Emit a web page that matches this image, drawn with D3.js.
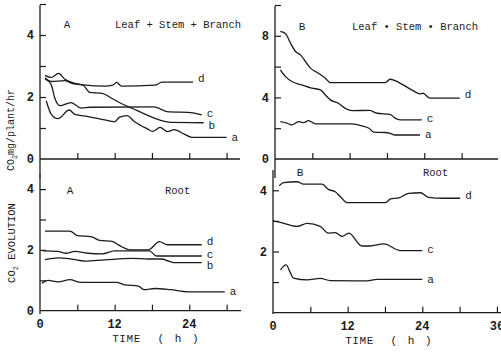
<!DOCTYPE html>
<html>
<head>
<meta charset="utf-8">
<script src="https://cdn.jsdelivr.net/npm/d3@7"></script>
<style>
  body { margin: 0; background: #fff; }
  svg { display: block; }
</style>
</head>
<body>
<svg id="chart" width="501" height="352"></svg>
<script>
// time ticks (h)
const timeLabels = [0, 12, 24, 36]

// A, leaf + stem + branch   [h, CO2 mg/plant/hr]
const shootA_a = [[1,1.88],[1.8,1.45],[2.9,1.3],[4.7,1.58],[5.6,1.44],[7.7,1.37],[10.4,1.26],[12,1.2],[12.8,1.35],[14,1.4],[15.2,1.2],[16.2,1.08],[17.2,0.98],[18.1,0.89],[19.3,1.02],[20.5,0.88],[21.6,0.95],[23.2,0.8],[24.4,0.7],[30,0.7]]
const shootA_b = [[0.8,2.7],[1.8,2.63],[3,2.76],[4,2.57],[5.5,2.45],[7,2.37],[8,2.15],[10,2.12],[11.5,1.96],[13.5,1.75],[15,1.62],[16.5,1.48],[18,1.35],[19.5,1.24],[21,1.18],[26.3,1.17]]
const shootA_c = [[0.8,2.58],[1.8,2.4],[2.4,1.95],[3.2,1.72],[5,1.82],[6.6,1.64],[8,1.67],[18.2,1.68],[19.3,1.62],[20.4,1.53],[24.6,1.49],[26,1.42]]
const shootA_d = [[0.8,2.62],[1.8,2.5],[4,2.53],[5,2.45],[7,2.39],[10.4,2.35],[11.7,2.38],[12.3,2.47],[13.1,2.35],[18.5,2.38],[19.6,2.48],[24.6,2.48]]

// B, leaf + stem + branch
const shootB_a = [[0.85,2.43],[1.8,2.35],[2.7,2.21],[3.8,2.43],[4.6,2.36],[5.4,2.49],[6.5,2.28],[12.4,2.28],[14,2.15],[15.1,2.0],[15.9,1.75],[17.7,1.72],[18.5,1.67],[19.3,1.56],[23.3,1.56]]
const shootB_c = [[0.85,5.79],[1.7,5.35],[2.7,5.03],[4.3,4.81],[5.9,4.6],[7.3,4.49],[8.1,4.16],[8.9,3.84],[10.2,3.62],[11.3,3.29],[12.4,3.14],[15.2,3.16],[16.4,2.97],[18.5,2.9],[19.3,2.65],[20.1,2.54],[23.6,2.54]]
const shootB_d = [[0.85,8.28],[1.7,8.13],[2.5,7.52],[3.3,6.98],[4.1,6.76],[4.9,6.33],[5.7,5.9],[7,5.57],[8.1,5.25],[8.9,4.96],[17.7,4.96],[18.5,5.18],[19.3,5.09],[20.6,4.81],[22.2,4.44],[23.3,4.23],[23.8,4.27],[24.9,3.95],[29.7,3.95]]

// A, root
const rootA_a = [[0.3,0.9],[1.3,1.0],[2.9,0.95],[4.8,1.02],[6.6,0.93],[12.3,0.93],[13.6,0.85],[15.8,0.81],[16.8,0.69],[18.4,0.73],[21,0.69],[23.8,0.62],[29.7,0.62]]
const rootA_b = [[0.8,1.68],[3,1.74],[5,1.7],[7.2,1.63],[10.4,1.67],[14.7,1.72],[17.4,1.7],[19.5,1.7],[20.8,1.62],[21.5,1.58],[26,1.58]]
const rootA_c = [[0.5,1.97],[2.9,1.95],[4.2,1.89],[5.6,1.95],[7.7,1.89],[10,1.87],[12,1.97],[17.6,1.97],[18.7,1.8],[26,1.8]]
const rootA_d = [[0.8,2.62],[4.8,2.62],[6,2.47],[8.3,2.43],[9.6,2.31],[11.6,2.28],[12.8,2.14],[14.6,2.0],[17.4,2.0],[19.2,2.27],[20.5,2.17],[26,2.17]]

// B, root
const rootB_a = [[1.2,1.4],[2.1,1.56],[2.8,1.3],[3.3,1.13],[5.5,1.07],[7.6,1.12],[9.2,1.05],[15.1,1.04],[16.7,1.09],[24,1.09]]
const rootB_c = [[0,3.0],[1.2,2.95],[3.9,2.82],[5.5,2.92],[7.6,2.82],[8.9,2.6],[10,2.62],[11.1,2.49],[12.2,2.6],[14.3,2.18],[15.6,2.18],[17.8,2.25],[20.5,2.03],[24,2.03]]
const rootB_d = [[1,4.15],[1.7,4.25],[3.9,4.28],[4.9,4.2],[7.9,4.2],[8.9,4.03],[10,3.95],[10.8,3.8],[11.9,3.6],[18.1,3.6],[18.9,3.72],[20.2,3.75],[21.8,3.9],[23.7,3.92],[25,3.77],[27.4,3.74],[30.1,3.74]]

const ink = '#1c1c1c'
const mono = '"Liberation Mono", "DejaVu Sans Mono", monospace'

const svg = d3.select('#chart')

const panels = [
  { letter: 'A', title: 'Leaf + Stem + Branch', x0: 40, xEnd: 240, yTop: 5, yBottom: 177,
    yMax: 5, yTicks: [1, 2, 3, 4, 5], yLabels: [0, 2, 4], y0: 159, yUnit: 31,
    ticks: [6, 12, 18, 24, 30], labelsX: false, maxHour: 30,
    letterPos: [67, 24], titlePos: [115, 24],
    series: { a: shootA_a, b: shootA_b, c: shootA_c, d: shootA_d } },
  { letter: 'B', title: 'Leaf \u2022 Stem \u2022 Branch', x0: 275, xEnd: 498, yTop: 6, yBottom: 178,
    yMax: 10, yTicks: [2, 4, 6, 8, 10], yLabels: [0, 4, 8], y0: 159, yUnit: 15.4,
    ticks: [6, 12, 18, 24, 30], labelsX: false, maxHour: 36,
    letterPos: [302, 26], titlePos: [352, 26],
    series: { a: shootB_a, c: shootB_c, d: shootB_d } },
  { letter: 'A', title: 'Root', x0: 40, xEnd: 241, yTop: 175, yBottom: 314,
    yMax: 4, yTicks: [1, 2, 3, 4], yLabels: [0, 2, 4], y0: 310.7, yUnit: 30.4,
    ticks: [6, 12, 18, 24, 30], labelsX: true, maxHour: 30,
    letterPos: [70, 190], titlePos: [165, 190],
    series: { a: rootA_a, b: rootA_b, c: rootA_c, d: rootA_d } },
  { letter: 'B', title: 'Root', x0: 273, xEnd: 501, yTop: 170, yBottom: 314,
    yMax: 4, yTicks: [1, 2, 3, 4], yLabels: [2, 4], y0: 312.7, yUnit: 30.6,
    ticks: [6, 12, 18, 24, 30, 36], labelsX: true, maxHour: 36,
    letterPos: [300, 172], titlePos: [423, 172],
    series: { a: rootB_a, c: rootB_c, d: rootB_d } }
]

// small vertical nudges so the end labels of close lines clear each other
const labelNudge = { a: 0, b: 3, c: -1, d: -3 }

panels.forEach(p => {
  const x = d3.scaleLinear().domain([0, 36]).range([p.x0, p.x0 + 36 * 6.22])
  const y = d3.scaleLinear().domain([0, p.yMax]).range([p.y0, p.y0 - p.yMax * p.yUnit])
  const g = svg.append('g')

  // axis lines
  g.append('line')
    .attr('x1', p.x0).attr('x2', p.x0)
    .attr('y1', p.yTop).attr('y2', p.yBottom)
    .attr('stroke', ink).attr('stroke-width', 1.3)
  g.append('line')
    .attr('x1', p.x0).attr('x2', p.xEnd)
    .attr('y1', p.y0).attr('y2', p.y0)
    .attr('stroke', ink).attr('stroke-width', 1.3)

  // y axis ticks, pointing inwards
  const yAxis = d3.axisLeft(y)
    .tickValues(p.yTicks)
    .tickSizeInner(-6).tickSizeOuter(0)
    .tickFormat('')
  const ya = g.append('g').attr('transform', `translate(${p.x0},0)`).call(yAxis)
  ya.select('.domain').remove()
  ya.selectAll('line').attr('stroke', ink).attr('stroke-width', 1.2)

  g.selectAll('text.ylab')
    .data(p.yLabels)
    .enter().append('text')
    .attr('class', 'ylab')
    .attr('x', p.x0 - 6)
    .attr('y', d => y(d))
    .attr('dy', '0.36em')
    .attr('text-anchor', 'end')
    .style('font-family', mono)
    .style('font-size', '12px')
    .style('font-weight', 'bold')
    .style('fill', ink)
    .text(d => d)

  // x axis ticks, pointing up
  const xAxis = d3.axisBottom(x)
    .tickValues(p.ticks)
    .tickSizeInner(-6).tickSizeOuter(0)
    .tickFormat('')
  const xa = g.append('g').attr('transform', `translate(0,${p.y0})`).call(xAxis)
  xa.select('.domain').remove()
  xa.selectAll('line').attr('stroke', ink).attr('stroke-width', 1.2)

  if (p.labelsX) {
    g.selectAll('text.xlab')
      .data(timeLabels.filter(d => d <= p.maxHour))
      .enter().append('text')
      .attr('class', 'xlab')
      .attr('x', d => x(d))
      .attr('y', p.y0 + 17)
      .attr('text-anchor', 'middle')
      .style('font-family', mono)
      .style('font-size', '12px')
      .style('font-weight', 'bold')
      .style('fill', ink)
      .text(d => d)

    g.append('text')
      .attr('x', x(11.6)).attr('y', p.y0 + 31)
      .style('font-family', mono).style('font-size', '11px')
      .style('letter-spacing', '0.6px')
      .style('fill', ink)
      .text('TIME')
    g.append('text')
      .attr('x', x(18.9)).attr('y', p.y0 + 31)
      .style('font-family', mono).style('font-size', '11px')
      .style('letter-spacing', '2px')
      .style('fill', ink)
      .text('( h )')
  }

  // curves
  const line = d3.line()
    .x(d => x(d[0]))
    .y(d => y(d[1]))
    .curve(d3.curveMonotoneX)

  Object.entries(p.series).forEach(([name, pts]) => {
    g.append('path')
      .datum(pts)
      .attr('d', line)
      .attr('fill', 'none')
      .attr('stroke', ink)
      .attr('stroke-width', 1.3)
      .attr('stroke-linejoin', 'round')

    const last = pts[pts.length - 1]
    g.append('text')
      .attr('x', x(last[0]) + 5)
      .attr('y', y(last[1]) + labelNudge[name])
      .attr('dy', '0.3em')
      .style('font-family', mono)
      .style('font-size', '11px')
      .style('fill', ink)
      .text(name)
  })

  // panel captions
  g.append('text')
    .attr('x', p.letterPos[0]).attr('y', p.letterPos[1])
    .attr('dy', '0.35em').attr('text-anchor', 'middle')
    .style('font-family', mono).style('font-size', '11px')
    .style('fill', ink)
    .text(p.letter)
  g.append('text')
    .attr('x', p.titlePos[0]).attr('y', p.titlePos[1])
    .attr('dy', '0.35em')
    .style('font-family', mono).style('font-size', '10.5px')
    .style('fill', ink)
    .text(p.title)
})

// y axis titles
const ytitle = svg.append('g')
ytitle.append('text')
  .attr('transform', 'translate(14,130) rotate(-90)')
  .attr('text-anchor', 'middle')
  .style('font-family', mono).style('font-size', '10px')
  .style('fill', ink)
  .html('CO<tspan dy="3" font-size="7">2</tspan><tspan dy="-3">mg/plant/hr</tspan>')
ytitle.append('text')
  .attr('transform', 'translate(15,243) rotate(-90)')
  .attr('text-anchor', 'middle')
  .style('font-family', mono).style('font-size', '10.5px')
  .style('fill', ink)
  .html('CO<tspan dy="3" font-size="7">2</tspan><tspan dy="-3"> EVOLUTION</tspan>')
</script>
</body>
</html>
